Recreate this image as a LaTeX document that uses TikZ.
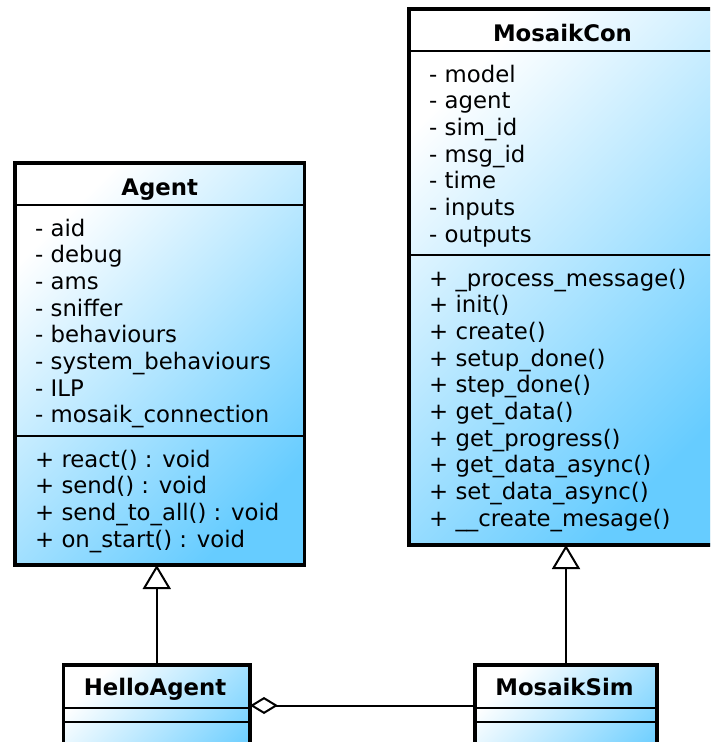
\documentclass[tikz,border=0pt]{standalone}
\usepackage{fontspec}
\setmainfont{DejaVu Sans}
\usetikzlibrary{arrows.meta,shadows}
\definecolor{umlblue}{RGB}{102,204,255}
\tikzset{
  cls/.style={draw=black, line width=3.3pt, top color=white, bottom color=umlblue,
    shading angle=45, inner sep=0pt, outer sep=0pt,
    drop shadow={shadow xshift=1.5pt, shadow yshift=-1.5pt, opacity=0.3}},
  sepline/.style={line width=2pt},
  member/.style={anchor=base west, inner sep=0pt, font=\fontsize{22.8}{26.7}\selectfont},
  title/.style={anchor=base, inner sep=0pt, font=\fontsize{22.8}{26.7}\selectfont\bfseries},
  conn/.style={line width=2pt},
  inherit/.style={conn, -{Triangle[open, length=24pt, width=28pt]}},
  aggr/.style={conn, -{Diamond[open, length=28pt, width=17pt]}},
}
\begin{document}
\begin{tikzpicture}[x=1pt,y=-1pt]
\useasboundingbox (0,0) rectangle (710,742);
\clip (0,0) rectangle (710,742);

% class boxes
\node[cls, minimum width=289.5pt, minimum height=402pt] (agent) at (159.75,364) {};
\node[cls, minimum width=307pt, minimum height=536pt] (con) at (562.5,277) {};
\node[cls, minimum width=186.5pt, minimum height=135pt] (hello) at (156.75,732.5) {};
\node[cls, minimum width=182pt, minimum height=135pt] (sim) at (566,732.5) {};

% separators
\coordinate (ys1) at (0,205);
\coordinate (ys2) at (0,436);
\coordinate (yc1) at (0,51);
\coordinate (yc2) at (0,255);
\coordinate (yh1) at (0,708);
\coordinate (yh2) at (0,722);
\draw[sepline] (agent.west |- ys1) -- (agent.east |- ys1);
\draw[sepline] (agent.west |- ys2) -- (agent.east |- ys2);
\draw[sepline] (con.west |- yc1) -- (con.east |- yc1);
\draw[sepline] (con.west |- yc2) -- (con.east |- yc2);
\draw[sepline] (hello.west |- yh1) -- (hello.east |- yh1);
\draw[sepline] (hello.west |- yh2) -- (hello.east |- yh2);
\draw[sepline] (sim.west |- yh1) -- (sim.east |- yh1);
\draw[sepline] (sim.west |- yh2) -- (sim.east |- yh2);

% titles
\node[title] (agentT) at (159.75,195) {Agent};
\node[title] (conT) at (562.5,41) {MosaikCon};
\node[title] (helloT) at (155,695) {HelloAgent};
\node[title] (simT) at (564.5,695) {MosaikSim};

% Agent members
\foreach \t [count=\i] in {{- aid},{- debug},{- ams},{- sniffer},{- behaviours},{- system\_behaviours},{- ILP},{- mosaik\_connection}}
  \node[member] (agA\i) at (35,{236+26.7*(\i-1)}) {\t};
\foreach \t [count=\i] in {{+ react() : void},{+ send() : void},{+ send\_to\_all() : void},{+ on\_start() : void}}
  \node[member] (agM\i) at (35,{467+26.7*(\i-1)}) {\t};

% MosaikCon members
\foreach \t [count=\i] in {{- model},{- agent},{- sim\_id},{- msg\_id},{- time},{- inputs},{- outputs}}
  \node[member] (coA\i) at (429,{82+26.7*(\i-1)}) {\t};
\foreach \t [count=\i] in {{+ \_process\_message()},{+ init()},{+ create()},{+ setup\_done()},{+ step\_done()},{+ get\_data()},{+ get\_progress()},{+ get\_data\_async()},{+ set\_data\_async()},{+ \_\_create\_mesage()}}
  \node[member] (coM\i) at (429,{286+26.7*(\i-1)}) {\t};

% connectors
\draw[inherit] (hello.north) -- (hello.north |- agent.south);
\draw[inherit] (sim.north) -- (sim.north |- con.south);
\coordinate (yag) at (0,705.5);
\draw[aggr] (sim.west |- yag) -- (hello.east |- yag);
\end{tikzpicture}
\end{document}
